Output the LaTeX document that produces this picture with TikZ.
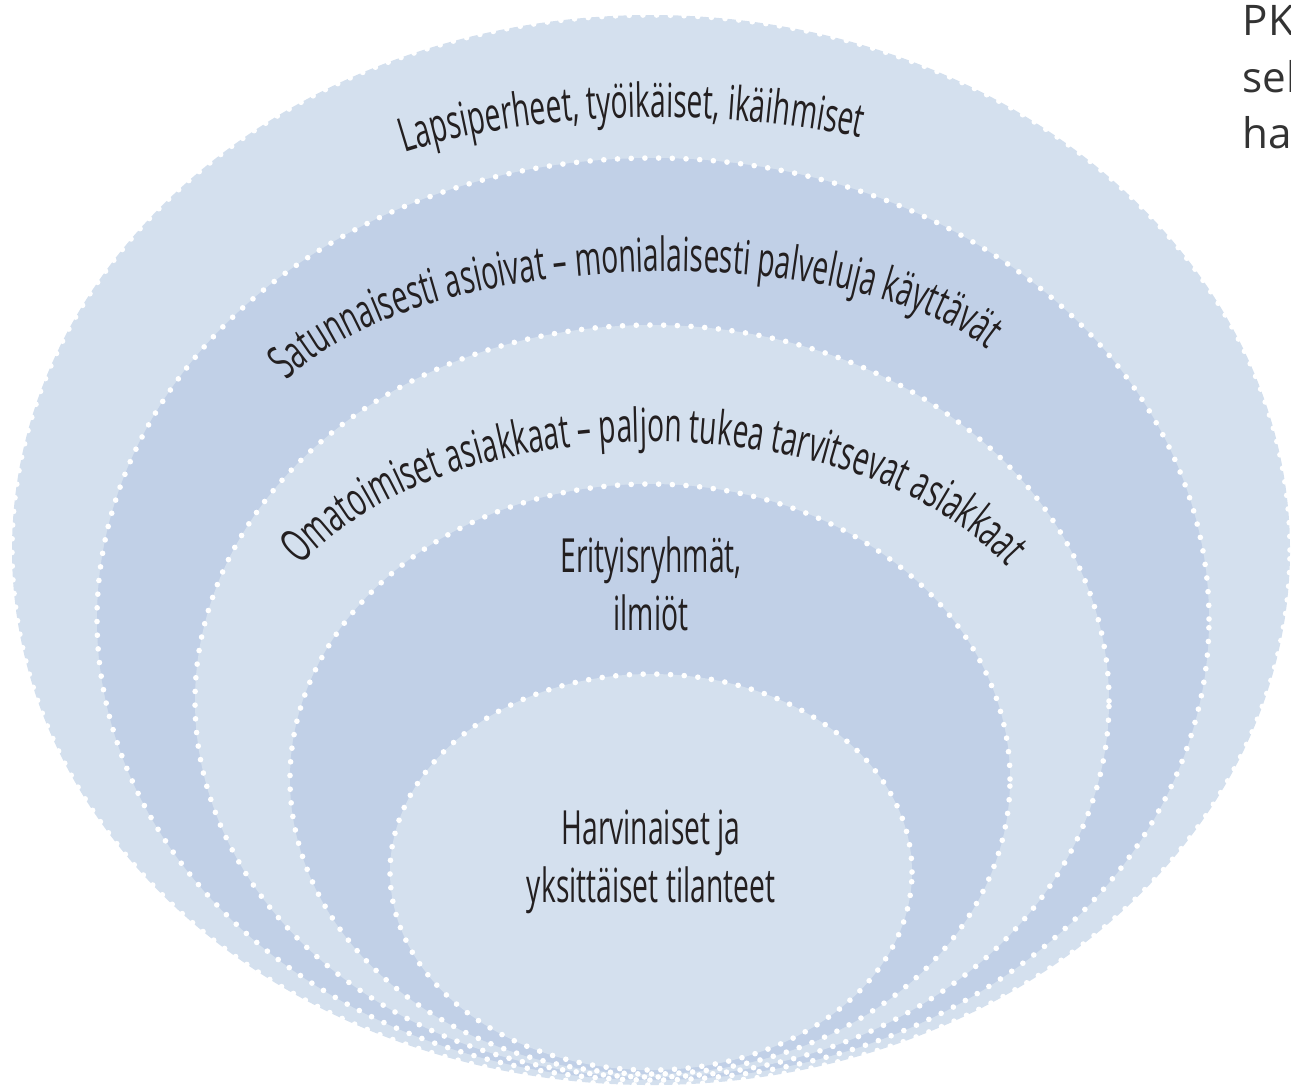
\documentclass[tikz,border=0pt]{standalone}
\usepackage{fontspec}
\usetikzlibrary{decorations.text}

\newfontfamily\labelfamily[FakeStretch=0.6]{Open Sans}
\newfontfamily\sidefamily{Open Sans}
\newcommand\labelfont{\labelfamily\fontsize{13.4}{16.5}\selectfont}
\newcommand\arclabel{\labelfont\color{labelgray}}

\definecolor{ringlight}{RGB}{212,224,238}
\definecolor{ringdark}{RGB}{193,208,231}
\definecolor{labelgray}{RGB}{35,31,32}
\definecolor{sidegray}{RGB}{51,51,51}

\begin{document}
\begin{tikzpicture}[ringlight/.style={fill=ringlight}, ringdark/.style={fill=ringdark},
    dots/.style={draw=white, line width=1.6pt, line cap=round, dash pattern=on 0pt off 3.9pt},
    label text/.style={text=labelgray, font=\labelfont, align=center, inner sep=0pt},
    side text/.style={text=sidegray, font=\sidefamily\fontsize{12}{16}\selectfont, anchor=base west, inner sep=0pt}]
  \useasboundingbox (0,0) rectangle (12.91,-10.87);

  % nested rings, outermost first
  \fill[ringlight] (6.51,-5.50) ellipse [x radius=6.39, y radius=5.35];
  \draw[dots]      (6.51,-5.50) ellipse [x radius=6.39, y radius=5.35];
  \fill[ringdark]  (6.53,-6.19) ellipse [x radius=5.56, y radius=4.61];
  \draw[dots]      (6.53,-6.19) ellipse [x radius=5.56, y radius=4.61];
  \fill[ringlight] (6.52,-7.01) ellipse [x radius=4.57, y radius=3.76];
  \draw[dots]      (6.52,-7.01) ellipse [x radius=4.57, y radius=3.76];
  \fill[ringdark]  (6.50,-7.79) ellipse [x radius=3.60, y radius=2.95];
  \draw[dots]      (6.50,-7.79) ellipse [x radius=3.60, y radius=2.95];
  \fill[ringlight] (6.51,-8.72) ellipse [x radius=2.61, y radius=1.98];
  \draw[dots]      (6.51,-8.72) ellipse [x radius=2.61, y radius=1.98];

  % curved labels
  \path[decorate, decoration={text along path, text align=center,
      text={|\arclabel|Lapsiperheet, työikäiset, ikäihmiset}}]
    (3.90,-1.57) .. controls (5.25,-1.10) and (7.25,-1.05) .. (8.75,-1.41);
  \path[decorate, decoration={text along path, text align=center,
      text={|\arclabel|Satunnaisesti asioivat – monialaisesti palveluja käyttävät}}]
    (2.70,-3.98) .. controls (4.0,-2.38) and (8.8,-2.33) .. (10.05,-3.65);
  \path[decorate, decoration={text along path, text align=center,
      text={|\arclabel|Omatoimiset asiakkaat – paljon tukea tarvitsevat asiakkaat}}]
    (2.72,-6.05) .. controls (3.95,-3.90) and (9.05,-3.85) .. (10.35,-6.05);

  % straight labels
  \node[label text] (erityis) at (6.51,-5.84) {Erityisryhmät,\\ilmiöt};
  \node[label text] (harvinaiset) at (6.51,-8.62) {Harvinaiset ja\\yksittäiset tilanteet};

  % text of the next column, cut by the page edge
  \node[side text] (pk)  at (12.42,-0.35) {PK};
  \node[side text] (sel) at (12.42,-0.92) {sel};
  \node[side text] (ha)  at (12.42,-1.48) {ha};
\end{tikzpicture}
\end{document}
